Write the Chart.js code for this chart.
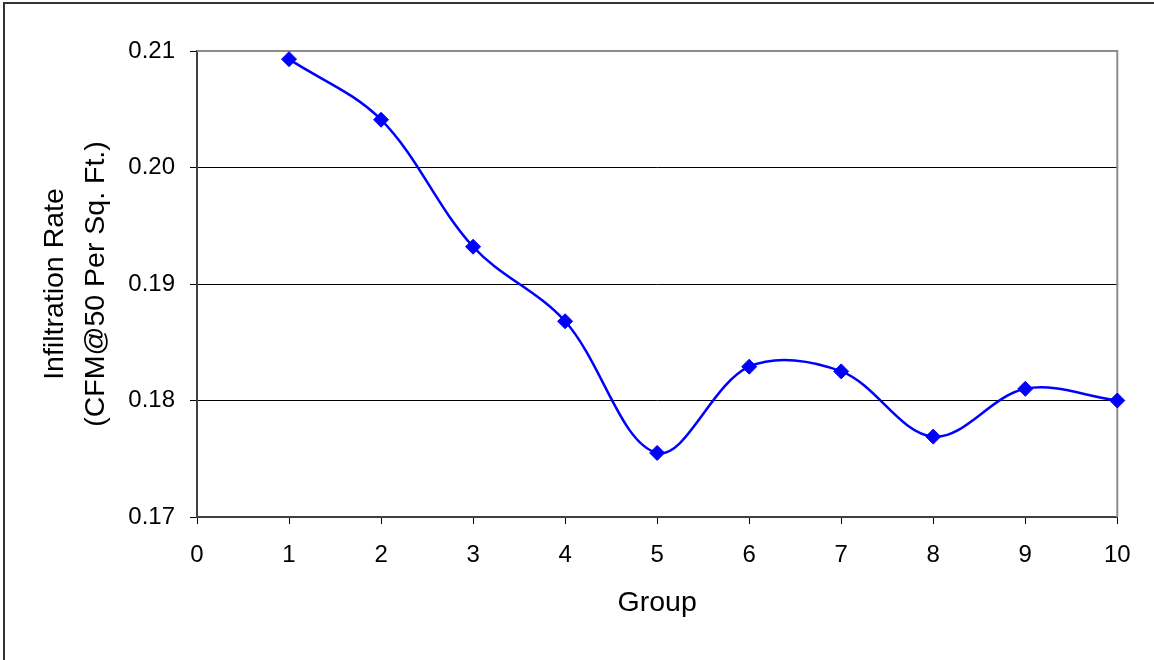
<!DOCTYPE html>
<html>
<head>
<meta charset="utf-8">
<script src="https://cdn.jsdelivr.net/npm/chart.js@4/dist/chart.umd.min.js"></script>
<style>
  html, body { margin: 0; padding: 0; background: #fff; overflow: hidden; }
  #wrap { position: relative; width: 1154px; height: 660px; }
  #frame { position: absolute; left: 3px; top: 2px; width: 2000px; height: 2000px;
           border: 2px solid #333; box-sizing: border-box; pointer-events: none; }
  canvas { position: absolute; left: 0; top: 0; }
</style>
</head>
<body>
<div id="wrap">
  <canvas id="chart" width="1154" height="660"></canvas>
  <div id="frame"></div>
</div>
<script>
// Infiltration rate by group
const groups = [1, 2, 3, 4, 5, 6, 7, 8, 9, 10];
const infiltrationRate = [0.2093, 0.2041, 0.1932, 0.1868, 0.1755, 0.1829, 0.1825, 0.1769, 0.1810, 0.1800];
const yTicks = [0.17, 0.18, 0.19, 0.20, 0.21];
const xTicks = [0, 1, 2, 3, 4, 5, 6, 7, 8, 9, 10];

const FONT = "'Liberation Sans', Arial, sans-serif";

// gray frame on the top and right of the plot area
const plotFrame = {
  id: 'plotFrame',
  beforeDatasetsDraw(chart) {
    const { ctx, chartArea: a } = chart;
    ctx.save();
    ctx.strokeStyle = '#8c8c8c';
    ctx.lineWidth = 2;
    ctx.beginPath();
    ctx.moveTo(a.left, a.top);
    ctx.lineTo(a.right, a.top);
    ctx.lineTo(a.right, a.bottom);
    ctx.stroke();
    ctx.restore();
  }
};

new Chart(document.getElementById('chart'), {
  type: 'line',
  data: {
    datasets: [{
      data: groups.map((g, i) => ({ x: g, y: infiltrationRate[i] })),
      borderColor: '#0000ff',
      backgroundColor: '#0000ff',
      borderWidth: 2.5,
      tension: 0.35,
      pointStyle: 'rectRot',
      pointRadius: 7.5,
      pointBorderWidth: 1,
      pointBackgroundColor: '#0000ff',
      pointBorderColor: '#0000ff',
      clip: false,
      fill: false
    }]
  },
  options: {
    responsive: false,
    animation: false,
    events: [],
    layout: { padding: { left: 0, top: 51, right: 36.7, bottom: 0 } },
    plugins: { legend: { display: false }, tooltip: { enabled: false } },
    scales: {
      x: {
        type: 'linear',
        min: 0, max: 10,
        afterBuildTicks(scale) { scale.ticks = xTicks.map(v => ({ value: v })); },
        afterFit(scale) { scale.height = 143; },
        ticks: {
          color: '#000',
          font: { family: FONT, size: 24 },
          padding: 17,
          maxRotation: 0,
          callback: v => String(v)
        },
        grid: { drawOnChartArea: false, drawTicks: true, tickLength: 7, tickColor: '#000', tickWidth: 1 },
        border: { display: true, color: '#404040', width: 2 },
        title: {
          display: true,
          text: 'Group',
          color: '#000',
          font: { family: FONT, size: 28.5, lineHeight: 1.2 },
          padding: { top: 0, bottom: 40 }
        }
      },
      y: {
        min: 0.17, max: 0.21,
        afterBuildTicks(scale) { scale.ticks = yTicks.map(v => ({ value: v })); },
        afterFit(scale) { scale.width = 197; },
        ticks: {
          color: '#000',
          font: { family: FONT, size: 24 },
          padding: 15,
          callback: v => Number(v).toFixed(2)
        },
        grid: {
          color: c => (c.tick && (Math.abs(c.tick.value - 0.21) < 1e-6 || Math.abs(c.tick.value - 0.17) < 1e-6)) ? 'rgba(0,0,0,0)' : '#000',
          lineWidth: 1,
          drawTicks: true,
          tickLength: 7,
          tickColor: '#000',
          tickWidth: 1
        },
        border: { display: true, color: '#404040', width: 2 },
        title: {
          display: true,
          text: ['Infiltration Rate', '(CFM@50 Per Sq. Ft.)'],
          color: '#000',
          font: { family: FONT, size: 28.5, lineHeight: 1.44 },
          padding: { top: 34.5, bottom: 0 }
        }
      }
    }
  },
  plugins: [plotFrame]
});
</script>
</body>
</html>
